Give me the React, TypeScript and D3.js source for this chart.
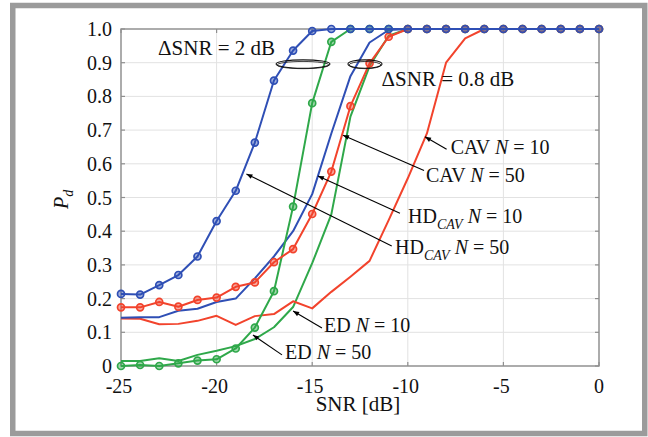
import React from 'react';
import * as d3 from 'd3';

// SNR grid (dB)
const snr = [-25, -24, -23, -22, -21, -20, -19, -18, -17, -16, -15, -14, -13, -12, -11, -10, -9, -8, -7, -6, -5, -4, -3, -2, -1, 0];

// detection probability per detector
const hdCav50 = [0.214, 0.212, 0.24, 0.27, 0.325, 0.43, 0.52, 0.663, 0.847, 0.936, 0.994, 1, 1, 1, 1, 1, 1, 1, 1, 1, 1, 1, 1, 1, 1, 1];
const hdCav10 = [0.143, 0.145, 0.145, 0.164, 0.17, 0.19, 0.2, 0.26, 0.325, 0.4, 0.51, 0.69, 0.86, 0.96, 0.997, 1, 1, 1, 1, 1, 1, 1, 1, 1, 1, 1];
const cav50 = [0.174, 0.174, 0.19, 0.176, 0.196, 0.203, 0.235, 0.248, 0.308, 0.347, 0.451, 0.577, 0.771, 0.898, 0.977, 1, 1, 1, 1, 1, 1, 1, 1, 1, 1, 1];
const cav10 = [0.141, 0.14, 0.124, 0.125, 0.134, 0.149, 0.122, 0.148, 0.154, 0.192, 0.171, 0.22, 0.265, 0.312, 0.433, 0.557, 0.69, 0.9, 0.972, 1, 1, 1, 1, 1, 1, 1];
const ed50 = [0, 0.003, 0, 0.008, 0.016, 0.02, 0.052, 0.114, 0.222, 0.473, 0.78, 0.962, 1, 1, 1, 1, 1, 1, 1, 1, 1, 1, 1, 1, 1, 1];
const ed10 = [0.015, 0.015, 0.023, 0.015, 0.033, 0.045, 0.059, 0.08, 0.115, 0.175, 0.305, 0.45, 0.74, 0.89, 0.98, 1, 1, 1, 1, 1, 1, 1, 1, 1, 1, 1];

const xTicks = [-25, -20, -15, -10, -5, 0];
const yTicks = [0, 0.1, 0.2, 0.3, 0.4, 0.5, 0.6, 0.7, 0.8, 0.9, 1.0];
const yTickLabels = ['0', '0.1', '0.2', '0.3', '0.4', '0.5', '0.6', '0.7', '0.8', '0.9', '1.0'];

const BLUE = '#2f4fb5';
const RED = '#f2432c';
const GREEN = '#2fa84a';

// [values, colour, show markers]
const series: [number[], string, boolean][] = [
  [ed10, GREEN, false],
  [cav10, RED, false],
  [hdCav10, BLUE, false],
  [ed50, GREEN, true],
  [cav50, RED, true],
  [hdCav50, BLUE, true],
];

// annotations in data units: label, text start (snr, P), arrow tail, arrow head
const labelNames = ['CAV', 'CAV', 'HD', 'HD', 'ED', 'ED'];
const labelN = ['10', '50', '10', '50', '10', '50'];
const labelPos = [[-7.76, 0.628], [-9.05, 0.547], [-9.99, 0.424], [-10.67, 0.331], [-14.38, 0.1], [-16.42, 0.02]];
const arrowTail = [[-7.97, 0.643], [-9.15, 0.58], [-10.41, 0.453], [-10.84, 0.356], [-14.49, 0.113], [-16.58, 0.033]];
const arrowHead = [[-9.1, 0.68], [-13.39, 0.685], [-14.7, 0.564], [-18.44, 0.57], [-16.0, 0.163], [-18.1, 0.092]];

const deltaText = ['2', '0.8'];
const deltaPos = [[-23.06, 0.923], [-11.37, 0.831]];
const ellipseCenter = [[-15.48, 0.896], [-12.24, 0.896]];
const ellipseHalfWidth = [1.41, 0.89];

const W = 648;
const H = 437;
const FONT = "'Liberation Serif', 'Times New Roman', serif";

const x = d3.scaleLinear().domain([-25, 0]).range([121, 599]);
const y = d3.scaleLinear().domain([0, 1]).range([366, 29]);

export default function App() {
  const line = d3.line<number>().x((_, i) => x(snr[i])).y((v) => y(v));

  return (
    <svg width={W} height={H} style={{ position: 'absolute', left: 0, top: 0, background: '#fff', fontFamily: FONT }}>
      <defs>
        <marker id="arr" viewBox="0 0 10 10" refX="10" refY="5" markerWidth="8" markerHeight="6" orient="auto" markerUnits="userSpaceOnUse">
          <path d="M0,1 L10,5 L0,9 Z" fill="#000" />
        </marker>
        <clipPath id="plot">
          <rect x={x(-25) - 6} y={y(1) - 6} width={x(0) - x(-25) + 12} height={y(0) - y(1) + 12} />
        </clipPath>
      </defs>

      {/* outer frame */}
      <rect x={12.75} y={5.5} width={632} height={428} fill="none" stroke="#9b9b9b" strokeWidth={5.5} />

      {/* grid */}
      {xTicks.map((t) => (
        <line key={'gx' + t} x1={x(t)} x2={x(t)} y1={y(0)} y2={y(1)} stroke="#e2e2e2" strokeWidth={1} />
      ))}
      {yTicks.map((t) => (
        <line key={'gy' + t} x1={x(-25)} x2={x(0)} y1={y(t)} y2={y(t)} stroke="#e2e2e2" strokeWidth={1} />
      ))}

      {/* box + ticks */}
      <rect x={x(-25)} y={y(1)} width={x(0) - x(-25)} height={y(0) - y(1)} fill="none" stroke="#8f8f8f" strokeWidth={1.4} />
      {xTicks.map((t) => (
        <g key={'tx' + t} stroke="#8f8f8f" strokeWidth={1.2}>
          <line x1={x(t)} x2={x(t)} y1={y(0)} y2={y(0) - 4} />
          <line x1={x(t)} x2={x(t)} y1={y(1)} y2={y(1) + 4} />
        </g>
      ))}
      {yTicks.map((t) => (
        <g key={'ty' + t} stroke="#8f8f8f" strokeWidth={1.2}>
          <line x1={x(-25)} x2={x(-25) + 4} y1={y(t)} y2={y(t)} />
          <line x1={x(0)} x2={x(0) - 4} y1={y(t)} y2={y(t)} />
        </g>
      ))}

      {/* tick labels */}
      {xTicks.map((t) => (
        <text key={'lx' + t} x={x(t) - (t < 0 ? 2 : 0)} y={y(0) + 27} fontSize={20} textAnchor="middle" fill="#111">
          {String(t)}
        </text>
      ))}
      {yTicks.map((t, i) => (
        <text key={'ly' + t} x={112} y={y(t) + 7} fontSize={20} textAnchor="end" fill="#111">
          {yTickLabels[i]}
        </text>
      ))}

      {/* axis titles */}
      <text x={(x(-25) + x(0)) / 2 - 2} y={410.5} fontSize={21} textAnchor="middle" fill="#111">SNR [dB]</text>
      <text transform={`translate(68,209) rotate(-90)`} fontSize={20} fill="#111">
        <tspan fontStyle="italic">P</tspan>
        <tspan fontStyle="italic" fontSize={14} dy={5}>d</tspan>
      </text>

      {/* curves */}
      <g clipPath="url(#plot)">
        {series.map(([vals, col, mk], si) => (
          <g key={'s' + si}>
            <path d={line(vals) || ''} fill="none" stroke={col} strokeWidth={2} strokeLinejoin="round" />
            {mk &&
              vals.map((v, i) => (
                <circle key={i} cx={x(snr[i])} cy={y(v)} r={3.5} fill={col} fillOpacity={0.45} stroke={col} strokeWidth={1.7} />
              ))}
          </g>
        ))}
      </g>

      {/* delta SNR ellipses and text */}
      {ellipseCenter.map((c, i) => (
        <g key={'el' + i} fill="none" stroke="#111">
          <ellipse cx={x(c[0])} cy={y(c[1])} rx={x(c[0] + ellipseHalfWidth[i]) - x(c[0])} ry={4.2} strokeWidth={1.1} />
          <ellipse cx={x(c[0])} cy={y(c[1]) + 1} rx={x(c[0] + ellipseHalfWidth[i]) - x(c[0]) - 1} ry={3.6} strokeWidth={0.8} />
        </g>
      ))}
      {deltaPos.map((p, i) => (
        <text key={'dt' + i} x={x(p[0])} y={y(p[1])} fontSize={21} fill="#111">
          {`ΔSNR = ${deltaText[i]} dB`}
        </text>
      ))}

      {/* curve labels with arrows */}
      {labelPos.map((p, i) => (
        <g key={'lab' + i}>
          <line
            x1={x(arrowTail[i][0])}
            y1={y(arrowTail[i][1])}
            x2={x(arrowHead[i][0])}
            y2={y(arrowHead[i][1])}
            stroke="#000"
            strokeWidth={1.1}
            markerEnd="url(#arr)"
          />
          <text x={x(p[0])} y={y(p[1])} fontSize={20} fill="#111">
            {labelNames[i]}
            {labelNames[i] === 'HD' && (
              <tspan fontStyle="italic" fontSize={14} dy={6}>CAV</tspan>
            )}
            <tspan dy={labelNames[i] === 'HD' ? -6 : 0}> </tspan>
            <tspan fontStyle="italic">N</tspan>
            {` = ${labelN[i]}`}
          </text>
        </g>
      ))}
    </svg>
  );
}
